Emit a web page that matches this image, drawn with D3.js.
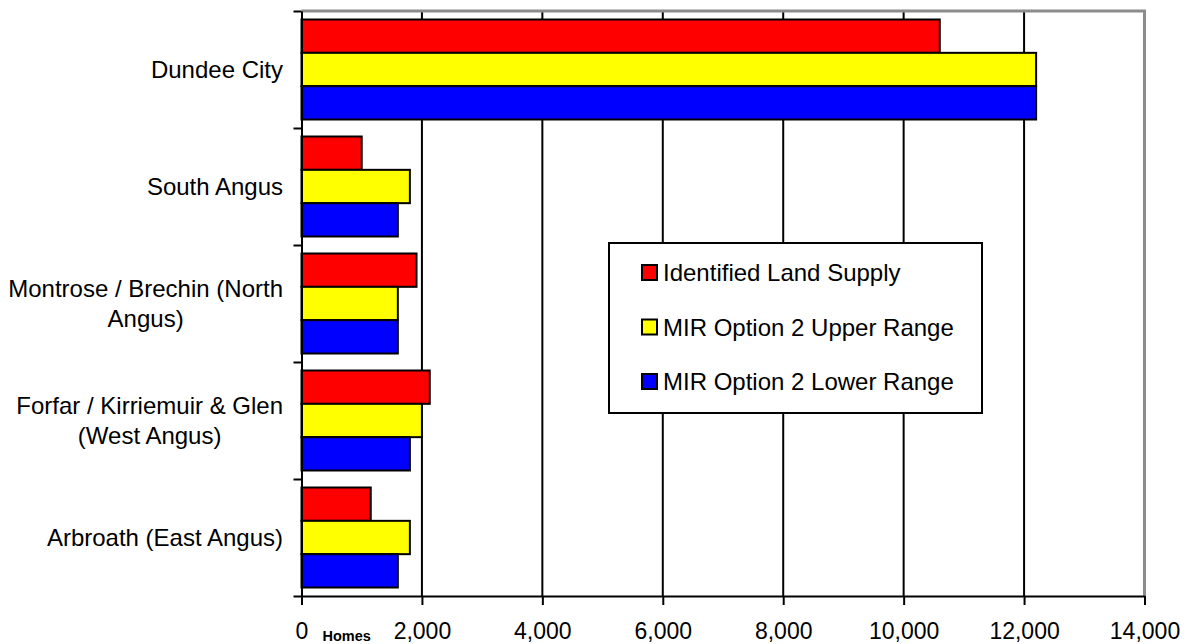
<!DOCTYPE html>
<html>
<head>
<meta charset="utf-8">
<script src="https://cdn.jsdelivr.net/npm/d3@7/dist/d3.min.js"></script>
<style>
  html, body { margin: 0; padding: 0; background: #fff; }
  svg { display: block; font-family: "Liberation Sans", Arial, sans-serif; }
</style>
</head>
<body>
<svg id="chart" width="1186" height="644"></svg>
<script>
// ---- data ----
const categories = [
  "Dundee City",
  "South Angus",
  "Montrose / Brechin (North\nAngus)",
  "Forfar / Kirriemuir & Glen\n(West Angus)",
  "Arbroath (East Angus)"
];
const seriesNames = ["Identified Land Supply", "MIR Option 2 Upper Range", "MIR Option 2 Lower Range"];
const identifiedLandSupply = [10600, 1000, 1910, 2130, 1150];
const upperRange = [12200, 1800, 1600, 2000, 1800];
const lowerRange = [12200, 1600, 1600, 1800, 1600];
const seriesColors = ["#FF0000", "#FFFF00", "#0000FF"];
const xTicks = [0, 2000, 4000, 6000, 8000, 10000, 12000, 14000];
const xUnitLabel = "Homes";

const seriesValues = [identifiedLandSupply, upperRange, lowerRange];

// ---- layout ----
const svg = d3.select("#chart");
const plot = { left: 301.5, right: 1144.5, top: 11, bottom: 596 };

const x = d3.scaleLinear().domain([0, 14000]).range([plot.left, plot.right]);
const y0 = d3.scaleBand().domain(categories).range([plot.top, plot.bottom]).padding(0);
const y1 = d3.scaleBand().domain(seriesNames).range([0, y0.bandwidth()]).paddingInner(0).paddingOuter(0.255);
const yEdges = d3.scaleLinear().domain([0, categories.length]).range([plot.top, plot.bottom]);

// gridlines
svg.append("g")
  .selectAll("line")
  .data(xTicks.filter(t => t > 0 && t < 14000))
  .join("line")
  .attr("x1", d => x(d)).attr("x2", d => x(d))
  .attr("y1", plot.top).attr("y2", plot.bottom)
  .attr("stroke", "#000").attr("stroke-width", 2);

// grey top and right border
svg.append("path")
  .attr("d", `M${x(0)},${plot.top}H${x(14000)}V${plot.bottom}`)
  .attr("fill", "none").attr("stroke", "#8c8c8c").attr("stroke-width", 3);

// bars
const rows = categories.map((c, i) => ({ cat: c, vals: seriesNames.map((s, j) => ({ s, v: seriesValues[j][i], color: seriesColors[j] })) }));
svg.append("g")
  .selectAll("g")
  .data(rows)
  .join("g")
  .attr("transform", d => `translate(0,${y0(d.cat)})`)
  .selectAll("rect")
  .data(d => d.vals)
  .join("rect")
  .attr("x", x(0))
  .attr("y", d => y1(d.s))
  .attr("width", d => x(d.v) - x(0))
  .attr("height", y1.bandwidth())
  .attr("fill", d => d.color)
  .attr("stroke", "#000")
  .attr("stroke-width", 2);

// x axis
const xAxis = svg.append("g")
  .attr("transform", `translate(0,${plot.bottom})`)
  .call(d3.axisBottom(x).tickValues(xTicks).tickSize(9).tickSizeOuter(0).tickFormat(d3.format(",")));
xAxis.select(".domain").attr("stroke", "#000").attr("stroke-width", 2);
xAxis.selectAll(".tick line").attr("stroke", "#000").attr("stroke-width", 2);
xAxis.selectAll(".tick text")
  .attr("dy", null).attr("y", 43)
  .attr("font-size", 23).attr("fill", "#000")
  .attr("font-family", "'Liberation Sans', Arial, sans-serif");

// Homes label
svg.append("text")
  .attr("x", (x(0) + x(2000)) / 2 - 15)
  .attr("y", 641)
  .attr("text-anchor", "middle")
  .attr("font-size", 14.5)
  .attr("font-weight", "bold")
  .text(xUnitLabel);

// y axis (category boundaries)
const yAxis = svg.append("g")
  .attr("transform", `translate(${plot.left},0)`)
  .call(d3.axisLeft(yEdges).tickValues(d3.range(categories.length + 1)).tickSize(8).tickSizeOuter(0).tickFormat(""));
yAxis.select(".domain").attr("stroke", "#000").attr("stroke-width", 2);
yAxis.selectAll(".tick line").attr("stroke", "#000").attr("stroke-width", 2);

// category labels
const labelRight = plot.left - 18.5;
const lineH = 30;
categories.forEach(c => {
  const lines = c.split("\n");
  const g = svg.append("g");
  const cy = y0(c) + y0.bandwidth() / 2;
  const texts = lines.map((ln, k) => g.append("text")
    .attr("y", cy + (k - (lines.length - 1) / 2) * lineH)
    .attr("dy", "0.35em")
    .attr("font-size", 24)
    .attr("fill", "#000")
    .text(ln));
  if (lines.length === 1) {
    texts[0].attr("x", labelRight).attr("text-anchor", "end");
  } else {
    const maxW = d3.max(texts, t => t.node().getComputedTextLength());
    texts.forEach(t => t.attr("x", labelRight - maxW / 2).attr("text-anchor", "middle"));
  }
});

// legend
const legend = svg.append("g").attr("transform", "translate(609,243)");
legend.append("rect")
  .attr("width", 373).attr("height", 170)
  .attr("fill", "#fff").attr("stroke", "#000").attr("stroke-width", 2);
const rowY = d3.scalePoint().domain(seriesNames).range([30, 139]);
const li = legend.selectAll("g.item").data(seriesNames).join("g")
  .attr("class", "item")
  .attr("transform", d => `translate(0,${rowY(d)})`);
li.append("rect")
  .attr("x", 33).attr("y", -8).attr("width", 15).attr("height", 15)
  .attr("fill", (d, i) => seriesColors[i]).attr("stroke", "#000").attr("stroke-width", 2);
li.append("text")
  .attr("x", 54).attr("dy", "0.35em")
  .attr("font-size", 24).attr("fill", "#000")
  .text(d => d);
</script>
</body>
</html>
